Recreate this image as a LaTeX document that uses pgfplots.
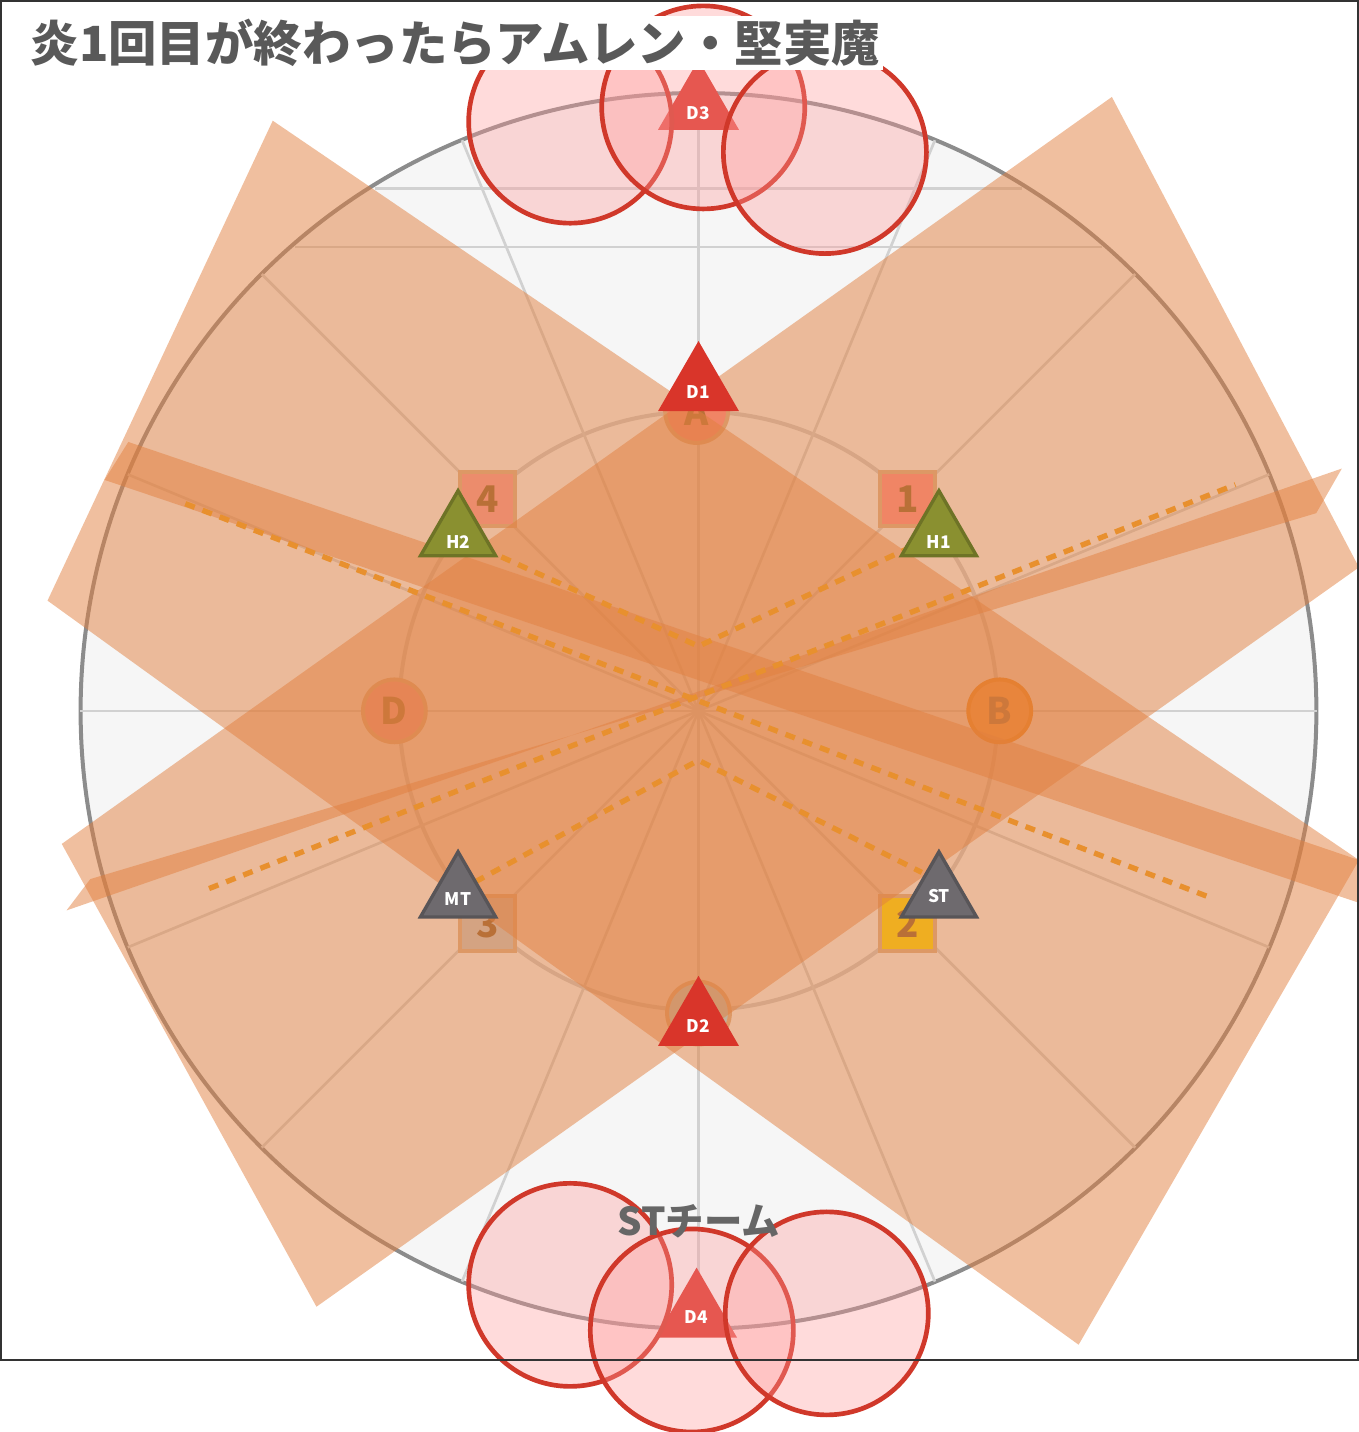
\documentclass[border=0pt]{standalone}
\usepackage{pgfplots}
\pgfplotsset{compat=1.18}
\usepackage{fontspec}
\setmainfont{Noto Sans CJK JP}
\definecolor{bandc}{HTML}{E2803F}
\definecolor{dotc}{HTML}{E8902E}
\definecolor{redc}{HTML}{D0382A}
\definecolor{trired}{HTML}{D9352A}
\definecolor{olive}{HTML}{8A9030}
\definecolor{tgray}{HTML}{6E6A6E}
\begin{document}
\begin{tikzpicture}
\begin{axis}[width=14.3cm,height=14.32cm,scale only axis,xmin=0,xmax=1430,ymin=0,ymax=1432,y dir=reverse,hide axis,clip=true,clip mode=individual]
% arena
\addplot[only marks,mark=*,mark size=185pt,mark options={fill=black!3.5,draw=black!45,line width=1.2pt}] coordinates {(735,748)};
\addplot[only marks,mark=o,mark size=89.6pt,mark options={draw=black!20,line width=1.2pt}] coordinates {(735,748)};
% grid
\addplot[black!18,line width=0.8pt] coordinates {(1385.5,748)(84.5,748)};
\addplot[black!18,line width=0.8pt] coordinates {(1335.5,499.2)(134.5,996.8)};
\addplot[black!18,line width=0.8pt] coordinates {(1194.6,288.4)(275.4,1207.6)};
\addplot[black!18,line width=0.8pt] coordinates {(983.8,147.5)(486.2,1348.5)};
\addplot[black!18,line width=0.8pt] coordinates {(735,98)(735,1398)};
\addplot[black!18,line width=0.8pt] coordinates {(486.2,147.5)(983.8,1348.5)};
\addplot[black!18,line width=0.8pt] coordinates {(275.4,288.4)(1194.6,1207.6)};
\addplot[black!18,line width=0.8pt] coordinates {(134.5,499.2)(1335.5,996.8)};
\addplot[black!18,line width=0.8pt] coordinates {(395,198)(1075,198)};
\addplot[black!18,line width=0.8pt] coordinates {(310,260)(1160,260)};
% waymarks
\addplot[only marks,mark=*,mark size=9.4pt,mark options={fill=red!45!white,draw=brown!60,line width=1.2pt}] coordinates {(733,433)};
\addplot[only marks,mark=*,mark size=9.4pt,mark options={fill=orange!80,draw=orange!80!brown,line width=1.2pt}] coordinates {(1052,748)};
\addplot[only marks,mark=*,mark size=9.4pt,mark options={fill=cyan!35,draw=brown!60,line width=1.2pt}] coordinates {(735,1066)};
\addplot[only marks,mark=*,mark size=9.4pt,mark options={fill=magenta!30!red!40,draw=brown!60,line width=1.2pt}] coordinates {(415,748)};
\addplot[only marks,mark=square*,mark size=8.2pt,mark options={fill=red!45!white,draw=brown!60,line width=1.2pt}] coordinates {(955,525)};
\addplot[only marks,mark=square*,mark size=8.2pt,mark options={fill=magenta!30!red!40,draw=brown!60,line width=1.2pt}] coordinates {(513,525)};
\addplot[only marks,mark=square*,mark size=8.2pt,mark options={fill=yellow!80!orange,draw=brown!60,line width=1.2pt}] coordinates {(955,972)};
\addplot[only marks,mark=square*,mark size=8.2pt,mark options={fill=black!22,draw=brown!60,line width=1.2pt}] coordinates {(513,972)};
\node[text=brown!75!black,font=\bfseries\fontsize{11}{11}\selectfont] at (axis cs:733,433) {A};
\node[text=brown!75!black,font=\bfseries\fontsize{11}{11}\selectfont] at (axis cs:1052,748) {B};
\node[text=brown!75!black,font=\bfseries\fontsize{11}{11}\selectfont] at (axis cs:415,748) {D};
\node[text=brown!75!black,font=\bfseries\fontsize{11}{11}\selectfont] at (axis cs:955,525) {1};
\node[text=brown!75!black,font=\bfseries\fontsize{11}{11}\selectfont] at (axis cs:513,525) {4};
\node[text=brown!75!black,font=\bfseries\fontsize{11}{11}\selectfont] at (axis cs:955,972) {2};
\node[text=brown!75!black,font=\bfseries\fontsize{11}{11}\selectfont] at (axis cs:513,972) {3};
% bands
\addplot[fill=bandc,draw=none,fill opacity=0.5] coordinates {(1170,102)(1430,597)(333,1375)(65,888)} -- cycle;
\addplot[fill=bandc,draw=none,fill opacity=0.5] coordinates {(287,127)(1430,905)(1135,1415)(50,632)} -- cycle;
\addplot[fill=bandc,draw=none,fill opacity=0.5] coordinates {(135,465)(1430,905)(1430,950)(110,505)} -- cycle;
\addplot[fill=bandc,draw=none,fill opacity=0.5] coordinates {(70,958)(1412,493)(1385,540)(95,925)} -- cycle;
% dotted
\addplot[dotc,line width=1.6pt,dash pattern=on 3pt off 2.5pt] coordinates {(195,530)(1275,945)};
\addplot[dotc,line width=1.6pt,dash pattern=on 3pt off 2.5pt] coordinates {(220,935)(1300,510)};
\addplot[dotc,line width=1.6pt,dash pattern=on 3pt off 2.5pt] coordinates {(510,578)(735,680)(960,575)};
\addplot[dotc,line width=1.6pt,dash pattern=on 3pt off 2.5pt] coordinates {(500,928)(735,800)(970,918)};
% triangles
\addplot[only marks,mark=triangle*,mark size=13pt,mark options={fill=olive,draw=olive!80!black,line width=1pt}] coordinates {(988,562)(482,562)};
\addplot[only marks,mark=triangle*,mark size=13pt,mark options={fill=tgray,draw=tgray!80!black,line width=1pt}] coordinates {(482,942)(988,942)};
\addplot[only marks,mark=triangle*,mark size=13pt,mark options={fill=trired,draw=trired,line width=1pt}] coordinates {(735,408)(735,1076)(735,112)(733,1383)};
% red circles
\addplot[only marks,mark=*,mark size=30.4pt,mark options={fill=red!40,fill opacity=0.35,draw=redc,line width=1.4pt}] coordinates {(600,128)(740,113)(868,160)(600,1352)(728,1400)(870,1382)};
% frame
\addplot[draw=black!80,line width=0.6pt] coordinates {(1,1)(1429,1)(1429,1431)(1,1431)} -- cycle;
% tri labels
\node[text=white,font=\bfseries\fontsize{5.2}{5}\selectfont] at (axis cs:735,412) {D1};
\node[text=white,font=\bfseries\fontsize{5.2}{5}\selectfont] at (axis cs:735,1080) {D2};
\node[text=white,font=\bfseries\fontsize{5.2}{5}\selectfont] at (axis cs:735,119) {D3};
\node[text=white,font=\bfseries\fontsize{5.2}{5}\selectfont] at (axis cs:733,1386) {D4};
\node[text=white,font=\bfseries\fontsize{5.2}{5}\selectfont] at (axis cs:988,570) {H1};
\node[text=white,font=\bfseries\fontsize{5.2}{5}\selectfont] at (axis cs:482,570) {H2};
\node[text=white,font=\bfseries\fontsize{5.2}{5}\selectfont] at (axis cs:482,946) {MT};
\node[text=white,font=\bfseries\fontsize{5.2}{5}\selectfont] at (axis cs:988,943) {ST};
\node[text=black!60,font=\bfseries\fontsize{11.5}{11.5}\selectfont] at (axis cs:735,1285) {STチーム};
\node[anchor=west,fill=white,inner sep=1pt,text=black!65,font=\bfseries\fontsize{14.5}{14.5}\selectfont] at (axis cs:28,45) {炎1回目が終わったらアムレン・堅実魔};
\end{axis}
\end{tikzpicture}
\end{document}
